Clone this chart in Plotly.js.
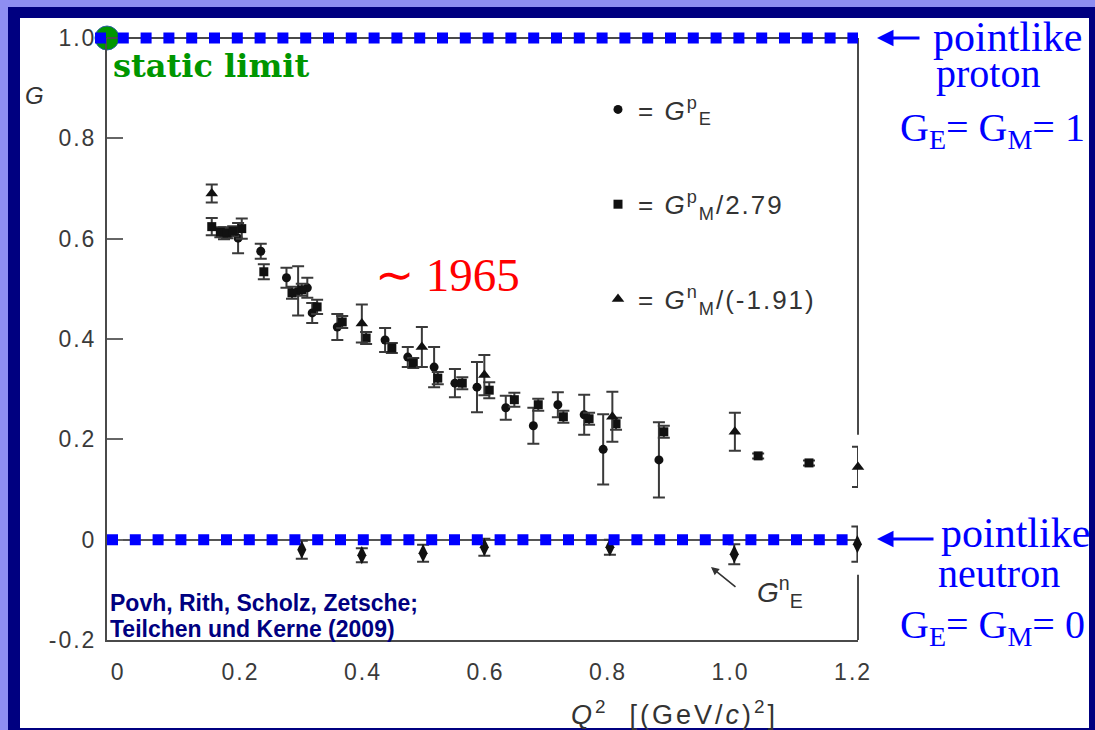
<!DOCTYPE html>
<html><head><meta charset="utf-8">
<script src="https://cdn.plot.ly/plotly-3.0.1.min.js"></script>
<style>html,body{margin:0;padding:0;background:#8e8ef2;overflow:hidden}#chart{width:1095px;height:730px}
.xtick text,.ytick text{letter-spacing:2px}
.legendtext{letter-spacing:2px}
g.annotation[data-index="12"] text{letter-spacing:3px}</style>
</head><body><div id="chart"></div>
<script>
// ---- data ----
const gepQ2  = [0.173,0.196,0.233,0.275,0.294,0.309,0.317,0.358,0.436,0.473,0.516,0.550,0.586,0.633,0.678,0.718,0.761,0.792,0.883];
const gepG   = [0.611,0.601,0.575,0.522,0.496,0.502,0.452,0.424,0.398,0.364,0.344,0.312,0.304,0.263,0.227,0.269,0.249,0.180,0.159];
const gepErr = [0.012,0.030,0.015,0.020,0.049,0.020,0.020,0.026,0.024,0.020,0.040,0.028,0.050,0.024,0.036,0.025,0.040,0.070,0.075];

const gmpQ2  = [0.153,0.167,0.178,0.188,0.202,0.238,0.284,0.300,0.325,0.366,0.405,0.447,0.482,0.522,0.562,0.606,0.647,0.686,0.727,0.769,0.813,0.891,1.045,1.128,1.221];
const gmpG   = [0.624,0.613,0.611,0.615,0.620,0.534,0.492,0.498,0.464,0.434,0.402,0.382,0.352,0.322,0.312,0.298,0.279,0.269,0.245,0.241,0.231,0.215,0.167,0.153,0.137];
const gmpErr = [0.017,0.010,0.010,0.010,0.020,0.015,0.012,0.012,0.014,0.012,0.012,0.010,0.010,0.012,0.012,0.016,0.014,0.012,0.012,0.012,0.012,0.012,0.005,0.005,0.005];

const gmnQ2  = [0.153,0.398,0.496,0.598,0.807,1.007,1.208];
const gmnG   = [0.690,0.431,0.384,0.328,0.245,0.215,0.145];
const gmnErr = [0.018,0.038,0.040,0.040,0.050,0.038,0.040];

const genQ2  = [0.300,0.398,0.498,0.598,0.803,1.006,1.207];
const genG   = [-0.020,-0.031,-0.027,-0.015,-0.015,-0.029,-0.009];
const genErr = [0.018,0.014,0.017,0.017,0.015,0.020,0.035];

const pointlikeProton = 1.0;
const pointlikeNeutron = 0.0;

const xTickVals = [0,0.2,0.4,0.6,0.8,1.0,1.2];
const xTickText = ['0','0.2','0.4','0.6','0.8','1.0','1.2'];
const yTickVals = [-0.2,0,0.2,0.4,0.6,0.8,1.0];
const yTickText = ['-0.2','0','0.2','0.4','0.6','0.8','1.0'];

const xRange = [-0.018, 1.208];
const yRange = [-0.2, 1.0];

// ---- layout helpers (pixel -> paper) ----
const W = 1095, H = 730;
const M = {l:107, r:237, t:38, b:90};
const PW = W - M.l - M.r, PH = H - M.t - M.b;
const px = v => (v - M.l) / PW;
const py = v => (H - M.b - v) / PH;

const ebar = e => ({type:'data', array:e, visible:true, color:'#3a3a3a', thickness:2, width:6});
const ink = '#111';

const traces = [
  {x:gepQ2, y:gepG, error_y:ebar(gepErr), mode:'markers', type:'scatter', cliponaxis:false,
   name:'= <i>G</i><sup>p</sup><sub>E</sub>', legendgroup:'a',
   marker:{symbol:'circle', size:9, color:ink}},
  {x:gmpQ2, y:gmpG, error_y:ebar(gmpErr), mode:'markers', type:'scatter', cliponaxis:false,
   name:'= <i>G</i><sup>p</sup><sub>M</sub>/2.79', legendgroup:'b',
   marker:{symbol:'square', size:9, color:ink}},
  {x:gmnQ2, y:gmnG, error_y:ebar(gmnErr), mode:'markers', type:'scatter', cliponaxis:false,
   name:'= <i>G</i><sup>n</sup><sub>M</sub>/(-1.91)', legendgroup:'c',
   marker:{symbol:'triangle-up', size:11, color:ink}},
  {x:genQ2, y:genG, error_y:ebar(genErr), mode:'markers', type:'scatter', cliponaxis:false,
   name:'G_E^n', showlegend:false,
   marker:{symbol:'diamond-tall', size:13, color:ink}},
  {x:[xRange[0]], y:[pointlikeProton], mode:'markers', type:'scatter', cliponaxis:false,
   showlegend:false, hoverinfo:'skip',
   marker:{symbol:'circle', size:24, color:'#009600', line:{color:'#2d5fa5', width:1}}}
];

const dotted = {color:'#0000ff', width:11, dash:'11px,11.8px'};
const frame = {color:'#4a4a4a', width:2};
const shapes = [
  // slide background
  {type:'rect', xref:'paper', yref:'paper', x0:px(8), x1:px(1095), y0:py(730), y1:py(7),
   fillcolor:'#000080', line:{width:0}, layer:'below'},
  {type:'rect', xref:'paper', yref:'paper', x0:px(20), x1:px(1089), y0:py(728), y1:py(18),
   fillcolor:'#ffffff', line:{width:0}, layer:'below'},
  // frame top and right (right has a gap around the last point)
  {type:'line', xref:'paper', yref:'paper', x0:0, x1:1, y0:1, y1:1, line:frame},
  {type:'line', xref:'paper', yref:'y', x0:1, x1:1, y0:yRange[1], y1:0.209, line:frame},
  {type:'line', xref:'paper', yref:'y', x0:1, x1:1, y0:-0.07, y1:yRange[0], line:frame},
  // pointlike limits (blue dotted)
  {type:'line', xref:'paper', yref:'paper', x0:px(95), x1:1, y0:1, y1:1, line:dotted},
  {type:'line', xref:'paper', yref:'y', x0:0, x1:1, y0:pointlikeNeutron, y1:pointlikeNeutron, line:dotted}
];

const blue = '#0000ff';
const serif = 'Liberation Serif, Times New Roman, serif';
const sans = 'Liberation Sans, Arial, sans-serif';
const ann = (text, x, y, font, extra) => Object.assign({text, x:px(x), y:py(y), xref:'paper', yref:'paper',
  xanchor:'left', yanchor:'middle', showarrow:false, font}, extra || {});

const annotations = [
  ann('static limit', 111, 66, {family:'DejaVu Serif, serif', size:32, color:'#009600', weight:'bold'}),
  ann('∼ 1965', 373, 275, {family:serif, size:47, color:'#ff0000'}),
  ann('pointlike', 931, 37, {family:serif, size:42, color:blue}),
  ann('proton', 934, 74, {family:serif, size:40, color:blue}),
  ann('G<sub>E</sub>= G<sub>M</sub>= 1', 898, 130, {family:serif, size:40, color:blue}),
  ann('pointlike', 939, 533, {family:serif, size:42, color:blue}),
  ann('neutron', 936, 573, {family:serif, size:40, color:blue}),
  ann('G<sub>E</sub>= G<sub>M</sub>= 0', 898, 627, {family:serif, size:40, color:blue}),
  ann('Povh, Rith, Scholz, Zetsche;', 108, 603, {family:sans, size:23, color:'#000080', weight:'bold'}),
  ann('Teilchen und Kerne (2009)', 108, 629, {family:sans, size:23, color:'#000080', weight:'bold'}),
  ann('<i>G</i><sup>n</sup><sub>E</sub>', 755, 592, {family:sans, size:28, color:'#333'}),
  ann('<i>G</i>', 23, 95, {family:sans, size:24, color:'#333'}),
  ann('<i>Q</i><sup>2</sup>  [(GeV/<i>c</i>)<sup>2</sup>]', 674, 713, {family:sans, size:27, color:'#333'}, {xanchor:'center'}),
  // arrows
  {text:'', x:px(877), y:py(38), xref:'paper', yref:'paper', showarrow:true, ax:44, ay:0,
   arrowhead:2, arrowsize:1.1, arrowwidth:3, arrowcolor:blue},
  {text:'', x:px(877), y:py(539), xref:'paper', yref:'paper', showarrow:true, ax:58, ay:0,
   arrowhead:2, arrowsize:1.1, arrowwidth:3, arrowcolor:blue},
  {text:'', x:px(711), y:py(567), xref:'paper', yref:'paper', showarrow:true, ax:26, ay:21,
   arrowhead:2, arrowsize:1, arrowwidth:1.6, arrowcolor:'#333'}
];

const layout = {
  width:W, height:H, margin:M,
  paper_bgcolor:'#8e8ef2', plot_bgcolor:'rgba(0,0,0,0)',
  showlegend:true,
  legend:{x:px(598), y:py(86), xanchor:'left', yanchor:'top', bgcolor:'rgba(0,0,0,0)',
    font:{family:sans, size:26, color:'#333'}, traceorder:'grouped', tracegroupgap:58, itemwidth:30},
  xaxis:{range:xRange, tickvals:xTickVals, ticktext:xTickText, ticks:'', showgrid:false, zeroline:false,
    showline:true, linecolor:'#4a4a4a', linewidth:2, ticklabelstandoff:10,
    tickfont:{family:sans, size:23, color:'#3a3a3a'}},
  yaxis:{range:yRange, tickvals:yTickVals, ticktext:yTickText, ticks:'inside', ticklen:16, tickwidth:2,
    tickcolor:'#666', showgrid:false, zeroline:true, zerolinecolor:'#555', zerolinewidth:2,
    showline:true, linecolor:'#4a4a4a', linewidth:2, ticklabelstandoff:4,
    tickfont:{family:sans, size:23, color:'#3a3a3a'}},
  shapes, annotations, hovermode:false
};

Plotly.newPlot('chart', traces, layout, {displayModeBar:false, staticPlot:true});
</script></body></html>
